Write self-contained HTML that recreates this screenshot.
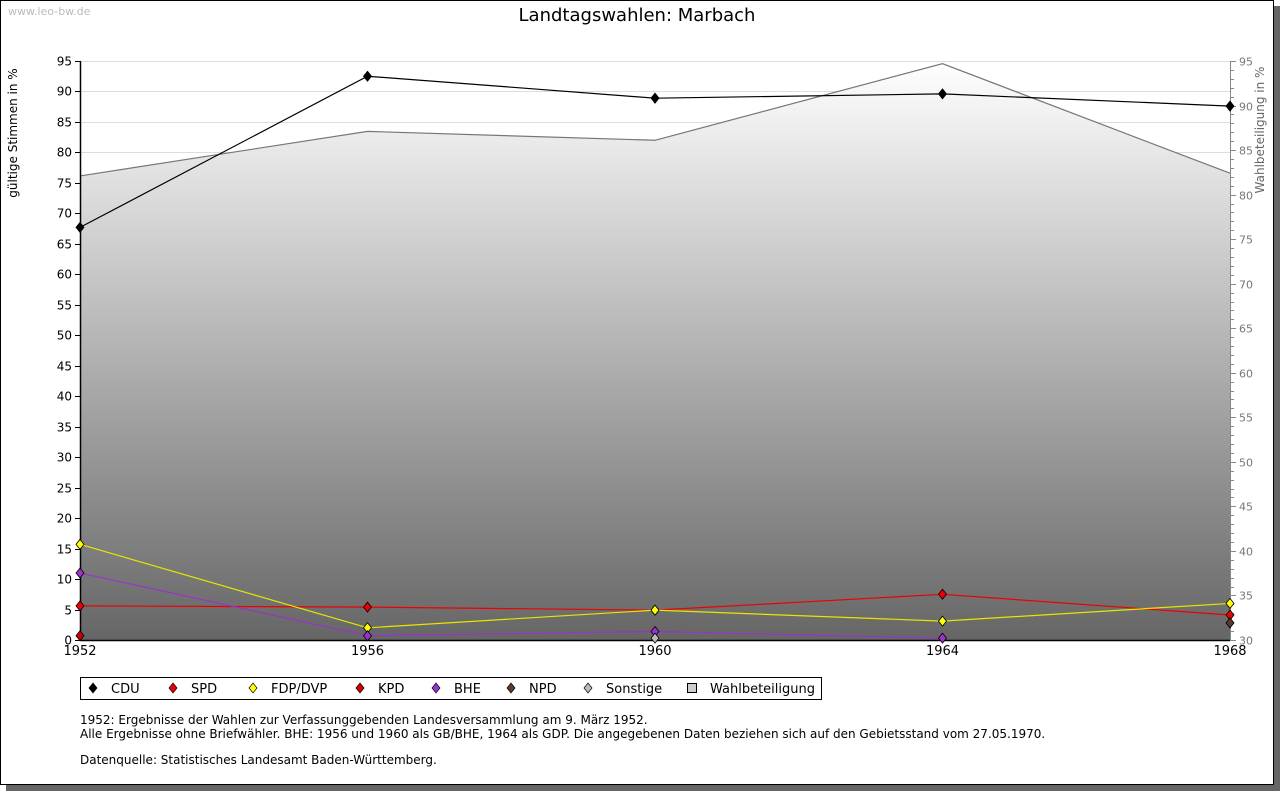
<!DOCTYPE html>
<html><head><meta charset="utf-8">
<style>
html,body{margin:0;padding:0;background:#fff;}
body{width:1280px;height:791px;position:relative;overflow:hidden;font-family:"DejaVu Sans","Liberation Sans",sans-serif;}
svg text{font-family:"DejaVu Sans","Liberation Sans",sans-serif;}
</style></head>
<body>
<svg id="chart" width="1280" height="791" xmlns="http://www.w3.org/2000/svg">
<defs>
<linearGradient id="tg" x1="0" y1="61" x2="0" y2="640" gradientUnits="userSpaceOnUse">
<stop offset="0" stop-color="#ffffff"/><stop offset="1" stop-color="#666666"/>
</linearGradient>
</defs>
<rect x="6" y="6" width="1274" height="785" fill="#666"/>
<rect x="0.5" y="0.5" width="1273" height="784" fill="#fff" stroke="#000"/>
<text x="8" y="15" font-size="11" fill="#bbb">www.leo-bw.de</text>
<text x="637" y="21" font-size="18" text-anchor="middle" fill="#000">Landtagswahlen: Marbach</text>
<g id="grid"></g>
<g id="area"></g>
<g id="axes"></g>
<g id="series"></g>
<text transform="translate(17,133) rotate(-90)" font-size="12" text-anchor="middle">gültige Stimmen in %</text>
<text transform="translate(1264,130) rotate(-90)" font-size="12" text-anchor="middle" fill="#666">Wahlbeteiligung in %</text>
<rect x="80.5" y="677.5" width="741" height="22" fill="#fff" stroke="#000"/>
<g id="legend"></g>
<text x="80" y="724" font-size="12">1952: Ergebnisse der Wahlen zur Verfassunggebenden Landesversammlung am 9. März 1952.</text>
<text x="80" y="738" font-size="12">Alle Ergebnisse ohne Briefwähler. BHE: 1956 und 1960 als GB/BHE, 1964 als GDP. Die angegebenen Daten beziehen sich auf den Gebietsstand vom 27.05.1970.</text>
<text x="80" y="764" font-size="12">Datenquelle: Statistisches Landesamt Baden-Württemberg.</text>
</svg>
<script>
const years=[1952,1956,1960,1964,1968];
const cdu=[67.7,92.5,88.9,89.6,87.6];
const spd=[5.6,5.4,4.9,7.5,4.1];
const fdp=[15.7,2.0,4.9,3.1,6.0];
const kpd=[0.7,null,null,null,null];
const bhe=[11.0,0.7,1.4,0.3,null];
const npd=[null,null,null,null,2.8];
const sonstige=[null,null,0.3,null,null];
const turnout=[82.1,87.1,86.1,94.7,82.4];
const yTicks=[0,5,10,15,20,25,30,35,40,45,50,55,60,65,70,75,80,85,90,95];
const y2Ticks=[30,35,40,45,50,55,60,65,70,75,80,85,90,95];

const NS="http://www.w3.org/2000/svg";
const X0=80,X1=1230,Y0=640,Y1=61;
const xs=v=>X0+(v-1952)/(1968-1952)*(X1-X0);
const ys=v=>Y0-v/95*(Y0-Y1);
const y2s=v=>Y0-(v-30)/65*(Y0-Y1);
function mk(tag,attrs,parent){const e=document.createElementNS(NS,tag);for(const k in attrs)e.setAttribute(k,attrs[k]);parent.appendChild(e);return e;}
const grid=document.getElementById('grid'),axes=document.getElementById('axes'),area=document.getElementById('area'),ser=document.getElementById('series'),leg=document.getElementById('legend');

yTicks.forEach(t=>{const y=Math.round(ys(t))+0.5;
 if(t>0){const g=mk('line',{x1:X0,x2:X1,y1:y,y2:y,stroke:'#ddd'},grid);
 
 }
 mk('line',{x1:X0-5,x2:X0,y1:y,y2:y,stroke:'#000'},axes);
 const tx=mk('text',{x:X0-8,y:y+4,'font-size':12,'text-anchor':'end'},axes);tx.textContent=t;
 
 
});
for(let v=30;v<=95;v++){const y=Math.round(y2s(v))+0.5;mk('line',{x1:X1,x2:X1+(v%5==0?6:4),y1:y,y2:y,stroke:'#888'},axes);}
y2Ticks.forEach(t=>{const y=Math.round(y2s(t))+0.5;
 const tx=mk('text',{x:X1+9,y:y+4,'font-size':11,fill:'#777'},axes);tx.textContent=t;
 
 
});
// turnout area
let d='M'+xs(years[0])+','+Y0;
years.forEach((yr,i)=>{d+=' L'+xs(yr)+','+y2s(turnout[i]);});
d+=' L'+xs(years[years.length-1])+','+Y0+' Z';
const ar=mk('path',{d:d,fill:'url(#tg)'},area);


const ln=mk('polyline',{points:years.map((yr,i)=>xs(yr)+','+y2s(turnout[i])).join(' '),fill:'none',stroke:'#777','stroke-width':1.2},area);



mk('line',{x1:X0+0.5,x2:X0+0.5,y1:Y1,y2:Y0,stroke:'#000','stroke-width':1.5},axes);
mk('line',{x1:X1+0.5,x2:X1+0.5,y1:Y1,y2:Y0,stroke:'#888'},axes);
mk('line',{x1:X0,x2:X1,y1:Y0+0.5,y2:Y0+0.5,stroke:'#000','stroke-width':1.5},axes);
years.forEach(yr=>{const tx=mk('text',{x:xs(yr),y:655,'font-size':13,'text-anchor':'middle'},axes);tx.textContent=yr;
 
 });

function diamond(x,y,c,p){return mk('path',{d:`M${x},${y-5} L${x+4},${y} L${x},${y+5} L${x-4},${y} Z`,fill:c,stroke:'#000','stroke-width':0.8},p);}
const series=[['cdu',cdu,'#000','#000'],['spd',spd,'#e00','#e00'],['fdp',fdp,'#ff0','#e6e600'],['kpd',kpd,'#c00','#c00'],['bhe',bhe,'#9933cc','#9933cc'],['npd',npd,'#5a3a2a','#5a3a2a'],['sonstige',sonstige,'#bbb','#aaa']];
series.forEach(([n,vals,c,lc])=>{
 const g=mk('g',{},ser);
 
 
 let pts=[];vals.forEach((v,i)=>{if(v!=null)pts.push(xs(years[i])+','+ys(v));});
 if(pts.length>1)mk('polyline',{points:pts.join(' '),fill:'none',stroke:lc,'stroke-width':1.2},g);
 vals.forEach((v,i)=>{if(v!=null){const m=diamond(xs(years[i]),ys(v),c,g);
  
  }});
});
const legItems=[['CDU','#000',90],['SPD','#e00',170],['FDP/DVP','#ff0',250],['KPD','#c00',357],['BHE','#9933cc',433],['NPD','#5a3a2a',508],['Sonstige','#bbb',585]];
legItems.forEach(([t,c,x])=>{
 const g=mk('g',{},leg);
 
 
 mk('path',{d:`M${x+3},${683} L${x+7},${688} L${x+3},${693} L${x-1},${688} Z`,fill:c,stroke:'#000','stroke-width':0.7},g);
 const tx=mk('text',{x:x+21,y:693,'font-size':13},g);tx.textContent=t;
});
const g=mk('g',{},leg);


mk('rect',{x:687.5,y:683.5,width:9,height:9,fill:'#ccc',stroke:'#000'},g);
const tw=mk('text',{x:710,y:693,'font-size':13},g);tw.textContent='Wahlbeteiligung';
</script>
</body></html>
